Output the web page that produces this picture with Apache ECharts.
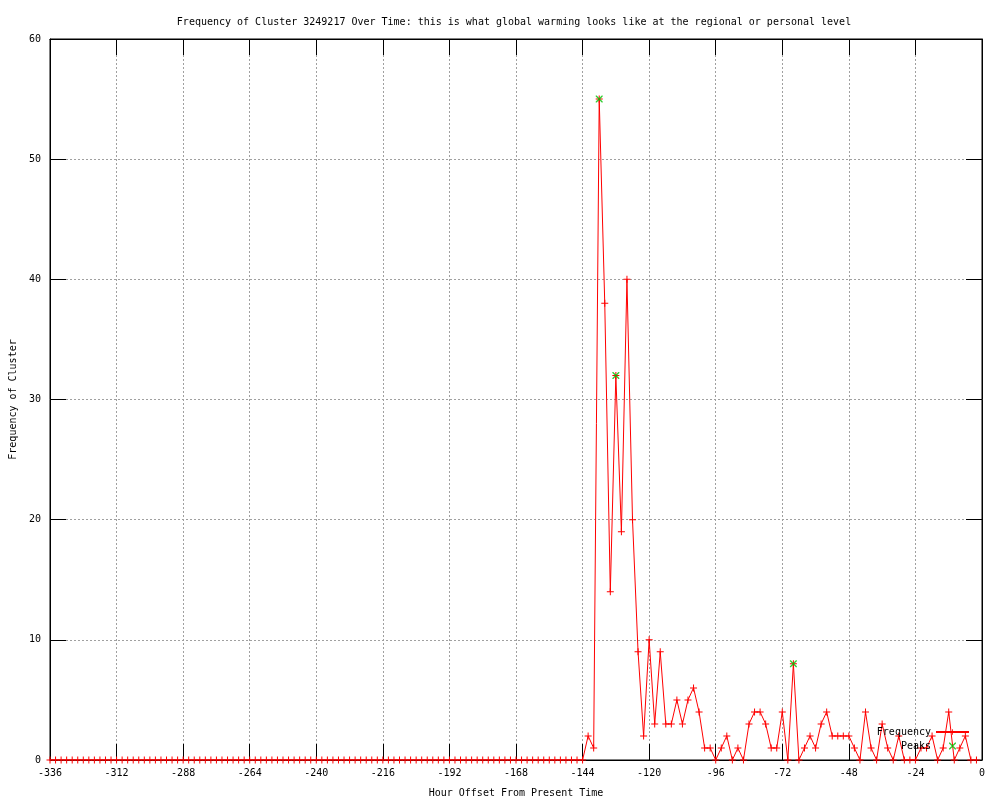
<!DOCTYPE html>
<html>
<head>
<meta charset="utf-8">
<script src="https://cdn.jsdelivr.net/npm/echarts@6/dist/echarts.min.js"></script>
<style>
html,body{margin:0;padding:0;background:#fff;}
#chart{width:1000px;height:800px;}
</style>
</head>
<body>
<div id="chart"></div>
<script>
const titleText = 'Frequency of Cluster 3249217 Over Time: this is what global warming looks like at the regional or personal level';
const xAxisName = 'Hour Offset From Present Time';
const yAxisName = 'Frequency of Cluster';
const HOUR_START = -336;
const HOUR_STEP = 2;
const frequency = [
  0,0,0,0,0,0,0,0,0,0,0,0,0,0,0,0,0,0,0,0,0,0,0,0,
  0,0,0,0,0,0,0,0,0,0,0,0,0,0,0,0,0,0,0,0,0,0,0,0,
  0,0,0,0,0,0,0,0,0,0,0,0,0,0,0,0,0,0,0,0,0,0,0,0,
  0,0,0,0,0,0,0,0,0,0,0,0,0,0,0,0,0,0,0,0,0,0,0,0,
  0,
  2,1,55,38,14,32,19,40,20,9,
  2,10,3,9,3,3,5,3,5,6,
  4,1,1,0,1,2,0,1,0,3,
  4,4,3,1,1,4,0,8,0,1,
  2,1,3,4,2,2,2,2,1,0,
  4,1,0,3,1,0,2,0,0,0,
  1,1,2,0,1,4,0,1,2,0,
  0
];
const peakHours = [-138, -132, -68];
const peakValues = [55, 32, 8];
const legendNames = ['Frequency', 'Peaks'];
const xMin = -336, xMax = 0, xInterval = 24;
const yMin = 0, yMax = 60, yInterval = 10;

const freqData = frequency.map((v, i) => [HOUR_START + i * HOUR_STEP, v]);
const peakData = peakHours.map((h, i) => [h, peakValues[i]]);

const FONT = 'DejaVu Sans Mono';
const FS = 10;
const plusPath = 'path://M0,3L7,3L7,4L0,4Z M3,0L4,0L4,7L3,7Z';
const xPath = 'path://M0,0L1,0L7,6L7,7L6,7L0,1Z M6,0L7,0L7,1L1,7L0,7L0,6Z';
const nameWidth = Math.max(...legendNames.map(n => n.length));

const chart = echarts.init(document.getElementById('chart'), null, {renderer: 'canvas'});
const tickStyle = {show: true, inside: true, length: 16, lineStyle: {color: '#000', width: 1}};
chart.setOption({
  animation: false,
  backgroundColor: '#fff',
  title: {
    text: titleText,
    left: 509,
    textAlign: 'center',
    top: 12,
    textStyle: {fontFamily: FONT, fontSize: FS, fontWeight: 'normal', color: '#000'}
  },
  grid: {left: 50, right: 18, top: 39, bottom: 40, containLabel: false, outerBoundsMode: 'none',
         show: true, borderColor: '#000', borderWidth: 1, backgroundColor: 'transparent'},
  legend: {
    data: legendNames,
    right: 30, top: 726, orient: 'vertical', padding: 0,
    itemWidth: 33, itemHeight: 7, align: 'right', itemGap: 2,
    selectedMode: false,
    formatter: n => n.padStart(nameWidth, ' '),
    textStyle: {fontFamily: FONT, fontSize: FS, color: '#000', lineHeight: 12}
  },
  xAxis: [
    {
      type: 'value', min: xMin, max: xMax, interval: xInterval, position: 'bottom',
      name: xAxisName, nameLocation: 'middle', nameGap: 28,
      nameTextStyle: {fontFamily: FONT, fontSize: FS, color: '#000'},
      axisLine: {show: true, onZero: false, lineStyle: {color: '#000', width: 1}},
      axisTick: tickStyle,
      axisLabel: {fontFamily: FONT, fontSize: FS, color: '#000', margin: 8},
      splitLine: {show: true, lineStyle: {color: '#a0a0a0', type: [2, 2], width: 1}}
    },
    {
      type: 'value', min: xMin, max: xMax, interval: xInterval, position: 'top',
      axisLine: {show: true, onZero: false, lineStyle: {color: '#000', width: 1}},
      axisTick: tickStyle,
      axisLabel: {show: false},
      splitLine: {show: false}
    }
  ],
  yAxis: [
    {
      type: 'value', min: yMin, max: yMax, interval: yInterval, position: 'left',
      name: yAxisName, nameLocation: 'middle', nameGap: 32,
      nameTextStyle: {fontFamily: FONT, fontSize: FS, color: '#000'},
      axisLine: {show: true, onZero: false, lineStyle: {color: '#000', width: 1}},
      axisTick: tickStyle,
      axisLabel: {fontFamily: FONT, fontSize: FS, color: '#000', margin: 9},
      splitLine: {show: true, lineStyle: {color: '#a0a0a0', type: [2, 2], width: 1}}
    },
    {
      type: 'value', min: yMin, max: yMax, interval: yInterval, position: 'right',
      axisLine: {show: true, onZero: false, lineStyle: {color: '#000', width: 1}},
      axisTick: tickStyle,
      axisLabel: {show: false},
      splitLine: {show: false}
    }
  ],
  series: [
    {
      name: legendNames[0],
      type: 'line',
      xAxisIndex: 0, yAxisIndex: 0,
      data: freqData,
      showSymbol: true,
      showAllSymbol: true,
      symbol: plusPath,
      symbolSize: 7,
      lineStyle: {color: '#ff0000', width: 1},
      itemStyle: {color: '#ff0000'},
      emphasis: {disabled: true},
      z: 3
    },
    {
      name: legendNames[1],
      type: 'scatter',
      xAxisIndex: 0, yAxisIndex: 0,
      data: peakData,
      symbol: xPath,
      symbolSize: 7,
      itemStyle: {color: '#00c000'},
      emphasis: {disabled: true},
      z: 4
    }
  ]
});
</script>
</body>
</html>
